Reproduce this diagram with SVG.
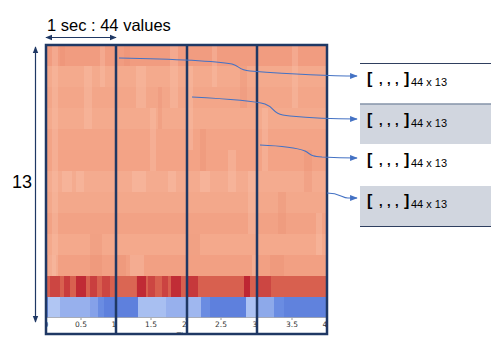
<svg xmlns="http://www.w3.org/2000/svg" width="492" height="363" viewBox="0 0 492 363">
<style>
.frame{fill:none;stroke:#1f3864;stroke-width:2.5}
.div{stroke:#1f3864;stroke-width:2.5}
.dim{stroke:#1f3864;stroke-width:1.2;fill:none}
.lbl{font-family:"Liberation Sans",Arial,sans-serif;fill:#000}
.tick{font-family:"DejaVu Sans",sans-serif;font-size:7.5px;fill:#333;text-anchor:middle}
.conn{fill:none;stroke:#4472c4;stroke-width:1.1}
.br{font-family:"Liberation Sans",Arial,sans-serif;font-size:16px;font-weight:bold;fill:#000}
.cm{font-family:"Liberation Sans",Arial,sans-serif;font-size:13px;font-weight:bold;fill:#000}
.sub{font-family:"Liberation Sans",Arial,sans-serif;font-size:11px;fill:#000}
.lt{fill:#f8c4ad;opacity:.35}
.dk{fill:#ea8d70;opacity:.28}
.rd{fill:#b8182c}
.rl{fill:#dc6a57}
.bl{fill:#c3d4f8}
.bd{fill:#5a7bdb}
</style>
<defs>
<marker id="ah" viewBox="0 0 10 10" refX="9" refY="5" markerWidth="7" markerHeight="7" orient="auto"><path d="M0,1 L10,5 L0,9 z" fill="#4472c4"/></marker>
<marker id="dh" viewBox="0 0 10 10" refX="9" refY="5" markerWidth="6" markerHeight="6" orient="auto-start-reverse"><path d="M0,1 L10,5 L0,9 z" fill="#1f3864"/></marker>
<clipPath id="hc"><rect x="46" y="45" width="281" height="289"/></clipPath>
</defs>
<rect width="492" height="363" fill="#fff"/>

<g id="heatmap" clip-path="url(#hc)">
<rect x="46" y="45" width="281" height="289" fill="#fff"/>
<rect x="46" y="45" width="281" height="21" fill="#f19c80"/>
<rect x="46" y="66" width="281" height="21" fill="#f4aa8d"/>
<rect x="46" y="87" width="281" height="21" fill="#f3a689"/>
<rect x="46" y="108" width="281" height="21" fill="#f4aa8d"/>
<rect x="46" y="129" width="281" height="21" fill="#f3a487"/>
<rect x="46" y="150" width="281" height="21" fill="#f3a386"/>
<rect x="46" y="171" width="281" height="21" fill="#f4ab8f"/>
<rect x="46" y="192" width="281" height="21" fill="#f3a88b"/>
<rect x="46" y="213" width="281" height="21" fill="#f2a285"/>
<rect x="46" y="234" width="281" height="21" fill="#f4a98c"/>
<rect x="46" y="255" width="281" height="21" fill="#f2a083"/>
<rect x="46" y="276" width="281" height="21" fill="#d8604f"/>
<rect x="46" y="297" width="281" height="21" fill="#6a8ce2"/>
<g>
<rect class="lt" x="52" y="45" width="6" height="231"/>
<rect class="dk" x="60" y="45" width="5" height="21"/>
<rect class="lt" x="84" y="66" width="8" height="63"/>
<rect class="lt" x="100" y="45" width="5" height="42"/>
<rect class="dk" x="124" y="45" width="6" height="21"/>
<rect class="lt" x="136" y="66" width="10" height="42"/>
<rect class="lt" x="150" y="108" width="6" height="63"/>
<rect class="dk" x="158" y="87" width="4" height="42"/>
<rect class="lt" x="170" y="45" width="8" height="63"/>
<rect class="lt" x="186" y="66" width="7" height="84"/>
<rect class="dk" x="200" y="129" width="6" height="42"/>
<rect class="lt" x="212" y="45" width="5" height="42"/>
<rect class="lt" x="228" y="150" width="8" height="42"/>
<rect class="dk" x="240" y="66" width="7" height="42"/>
<rect class="lt" x="248" y="171" width="8" height="63"/>
<rect class="lt" x="262" y="108" width="6" height="63"/>
<rect class="dk" x="278" y="192" width="8" height="42"/>
<rect class="lt" x="292" y="45" width="6" height="63"/>
<rect class="dk" x="304" y="150" width="8" height="42"/>
<rect class="lt" x="316" y="213" width="6" height="42"/>
<rect class="lt" x="62" y="171" width="10" height="21"/>
<rect class="lt" x="76" y="171" width="8" height="21"/>
<rect class="lt" x="132" y="171" width="14" height="21"/>
<rect class="lt" x="168" y="171" width="8" height="21"/>
<rect class="lt" x="200" y="171" width="10" height="21"/>
<rect class="lt" x="48" y="255" width="8" height="21"/>
<rect class="dk" x="90" y="234" width="12" height="42"/>
<rect class="dk" x="116" y="255" width="10" height="21"/>
<rect class="lt" x="130" y="255" width="14" height="21"/>
<rect class="dk" x="186" y="234" width="14" height="21"/>
<rect class="lt" x="252" y="255" width="6" height="21"/>
<rect class="dk" x="270" y="255" width="14" height="21"/>
</g>
<g>
<rect class="rd" x="50" y="276" width="10" height="21" opacity=".35"/>
<rect class="rd" x="64" y="276" width="6" height="21" opacity=".5"/>
<rect class="rd" x="76" y="276" width="10" height="21" opacity=".75"/>
<rect class="rd" x="90" y="276" width="7" height="21" opacity=".45"/>
<rect class="rd" x="102" y="276" width="8" height="21" opacity=".35"/>
<rect class="rl" x="116" y="276" width="20" height="21" opacity=".6"/>
<rect class="rd" x="137" y="276" width="9" height="21" opacity=".75"/>
<rect class="rd" x="148" y="276" width="7" height="21" opacity=".35"/>
<rect class="rd" x="162" y="276" width="6" height="21" opacity=".4"/>
<rect class="rd" x="171" y="276" width="10" height="21" opacity=".7"/>
<rect class="rd" x="188" y="276" width="10" height="21" opacity=".55"/>
<rect class="rd" x="244" y="276" width="6" height="21" opacity=".8"/>
<rect class="rd" x="257" y="276" width="14" height="21" opacity=".35"/>
</g>
<g>
<rect class="bl" x="48" y="297" width="12" height="21" opacity=".8"/>
<rect class="bl" x="60" y="297" width="30" height="21" opacity=".5"/>
<rect class="bl" x="90" y="297" width="8" height="21" opacity=".3"/>
<rect class="bd" x="104" y="297" width="34" height="21" opacity=".7"/>
<rect class="bl" x="138" y="297" width="28" height="21" opacity=".7"/>
<rect class="bl" x="166" y="297" width="20" height="21" opacity=".5"/>
<rect class="bl" x="187" y="297" width="14" height="21" opacity=".6"/>
<rect class="bd" x="210" y="297" width="36" height="21" opacity=".7"/>
<rect class="bl" x="246" y="297" width="10" height="21" opacity=".75"/>
<rect class="bl" x="258" y="297" width="16" height="21" opacity=".4"/>
<rect class="bd" x="284" y="297" width="43" height="21" opacity=".6"/>
</g>
<line x1="46" y1="317.5" x2="327" y2="317.5" stroke="#aaa" stroke-width="0.8"/>
<g stroke="#555" stroke-width="0.6">
<line x1="46" y1="318" x2="46" y2="320"/><line x1="81" y1="318" x2="81" y2="320"/><line x1="116" y1="318" x2="116" y2="320"/><line x1="151" y1="318" x2="151" y2="320"/><line x1="186" y1="318" x2="186" y2="320"/><line x1="221" y1="318" x2="221" y2="320"/><line x1="257" y1="318" x2="257" y2="320"/><line x1="292" y1="318" x2="292" y2="320"/><line x1="327" y1="318" x2="327" y2="320"/>
</g>
<text class="tick" x="46" y="327">0</text>
<text class="tick" x="81" y="327">0.5</text>
<text class="tick" x="114" y="327">1</text>
<text class="tick" x="151" y="327">1.5</text>
<text class="tick" x="184.5" y="327">2</text>
<text class="tick" x="221" y="327">2.5</text>
<text class="tick" x="255" y="327">3</text>
<text class="tick" x="292" y="327">3.5</text>
<text class="tick" x="325" y="327">4</text>
<text class="tick" x="186" y="338">Time</text>
</g>

<g id="frame">
<rect class="frame" x="46" y="45" width="281" height="289"/>
<line class="div" x1="116" y1="45" x2="116" y2="334"/>
<line class="div" x1="187" y1="45" x2="187" y2="334"/>
<line class="div" x1="257" y1="45" x2="257" y2="334"/>
</g>

<g id="dims">
<line class="dim" x1="46" y1="37.5" x2="116" y2="37.5" marker-start="url(#dh)" marker-end="url(#dh)"/>
<text class="lbl" x="47" y="31" font-size="16.5">1 sec : 44 values</text>
<line class="dim" x1="35.5" y1="47" x2="35.5" y2="322" marker-start="url(#dh)" marker-end="url(#dh)"/>
<text class="lbl" x="12" y="188" font-size="18">13</text>
</g>

<g id="boxes">
<line x1="360" y1="63.5" x2="491" y2="63.5" stroke="#2f3f5f" stroke-width="1"/>
<rect x="360" y="104" width="131" height="40" fill="#d1d6df"/>
<line x1="360" y1="104" x2="491" y2="104" stroke="#8593a8" stroke-width="1.5"/>
<rect x="360" y="186" width="131" height="40" fill="#d1d6df"/>
<line x1="360" y1="226.5" x2="491" y2="226.5" stroke="#2f3f5f" stroke-width="1"/>
</g>

<g id="m1"><text class="br" x="367" y="83.5">[</text><text class="cm" x="379 387 395" y="83.5">,,,</text><text class="br" x="404" y="83.5">]</text><text class="sub" x="411" y="86">44 x 13</text></g>
<g id="m2"><text class="br" x="367" y="124.5">[</text><text class="cm" x="379 387 395" y="124.5">,,,</text><text class="br" x="404" y="124.5">]</text><text class="sub" x="411" y="127">44 x 13</text></g>
<g id="m3"><text class="br" x="367" y="164.5">[</text><text class="cm" x="379 387 395" y="164.5">,,,</text><text class="br" x="404" y="164.5">]</text><text class="sub" x="411" y="167">44  x 13</text></g>
<g id="m4"><text class="br" x="367" y="205.5">[</text><text class="cm" x="379 387 395" y="205.5">,,,</text><text class="br" x="404" y="205.5">]</text><text class="sub" x="411" y="208">44 x 13</text></g>

<g id="connectors">
<path class="conn" d="M119,58 C170,59 215,61 232,64 C240,66 238,70 250,71 C290,74 320,76 357,76" marker-end="url(#ah)"/>
<path class="conn" d="M192,97 C230,99 255,101 265,104 C276,108 270,114 290,116 C320,119 335,119 357,119" marker-end="url(#ah)"/>
<path class="conn" d="M260,145 C285,146 300,149 305,151 C312,155 310,156 322,157 C340,158 348,158 357,158" marker-end="url(#ah)"/>
<path class="conn" d="M327,193 C340,193 342,198 348,198 L357,198" marker-end="url(#ah)"/>
</g>
</svg>
